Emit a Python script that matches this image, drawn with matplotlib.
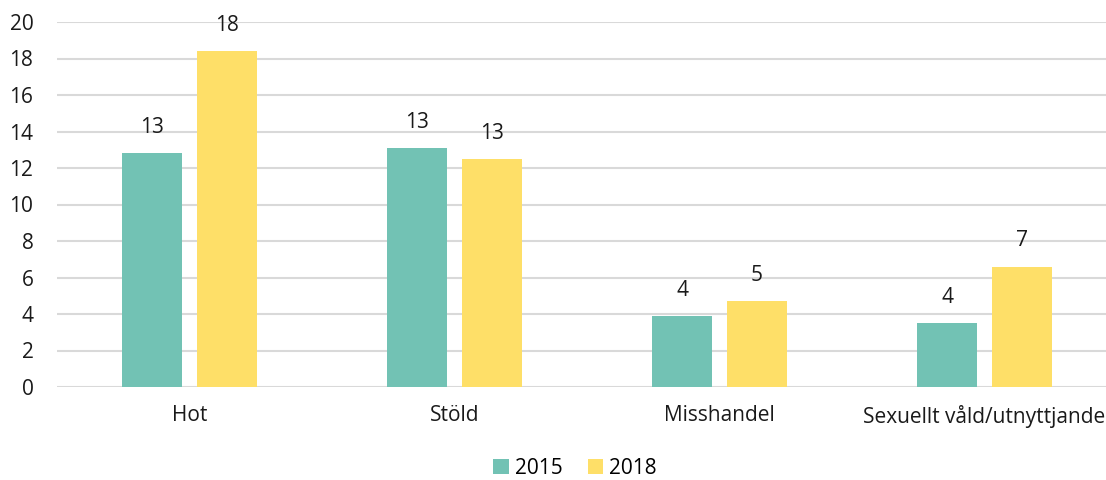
import numpy as np
import matplotlib
import matplotlib.pyplot as plt

matplotlib.use('Agg')

categories = ['Hot', 'Stöld', 'Misshandel', 'Sexuellt våld/utnyttjande']
values_2015 = [12.8, 13.1, 3.9, 3.5]
values_2018 = [18.4, 12.5, 4.7, 6.6]
labels_2015 = ['13', '13', '4', '4']
labels_2018 = ['18', '13', '5', '7']
series_labels = ['2015', '2018']
colors = ['#72C2B4', '#FEDF68']

plt.rcParams['font.family'] = ['Open Sans', 'DejaVu Sans']

W, H = 1106, 480
fig = plt.figure(figsize=(W / 100, H / 100), dpi=100)
# axes extends past right edge so gridlines run to the border
ax = fig.add_axes([57 / W, (H - 387) / H, 1060 / W, 365 / H])

x = np.arange(len(categories))
width = 0.223
offset = 0.1415
bars1 = ax.bar(x - offset, values_2015, width, color=colors[0], label=series_labels[0], zorder=3)
bars2 = ax.bar(x + offset, values_2018, width, color=colors[1], label=series_labels[1], zorder=3)

for bars, labs in ((bars1, labels_2015), (bars2, labels_2018)):
    for b, lab in zip(bars, labs):
        ax.annotate(lab, (b.get_x() + b.get_width() / 2, b.get_height()),
                    xytext=(0, 11), textcoords='offset points', ha='center', va='bottom',
                    fontsize=15, color='#1a1a1a')

ax.set_xlim(-0.5, len(categories) - 0.5)
ax.set_ylim(0, 20)
ax.set_yticks(range(0, 21, 2))
ax.set_xticks(x)
ax.set_xticklabels(categories)
ax.grid(axis='y', color='#d9d9d9', linewidth=1.5, zorder=0)
for s in ax.spines.values():
    s.set_visible(False)
ax.tick_params(axis='both', length=0, labelsize=15, colors='#1a1a1a')
ax.tick_params(axis='y', pad=17)
ax.tick_params(axis='x', pad=13)

fig.legend(loc='center', bbox_to_anchor=(575 / W, 1 - 468 / H), ncol=2, frameon=False,
           fontsize=15, handlelength=0.75, handleheight=0.75, handletextpad=0.3, columnspacing=1.2)

plt.savefig('out.png', dpi=100)
plt.close()
